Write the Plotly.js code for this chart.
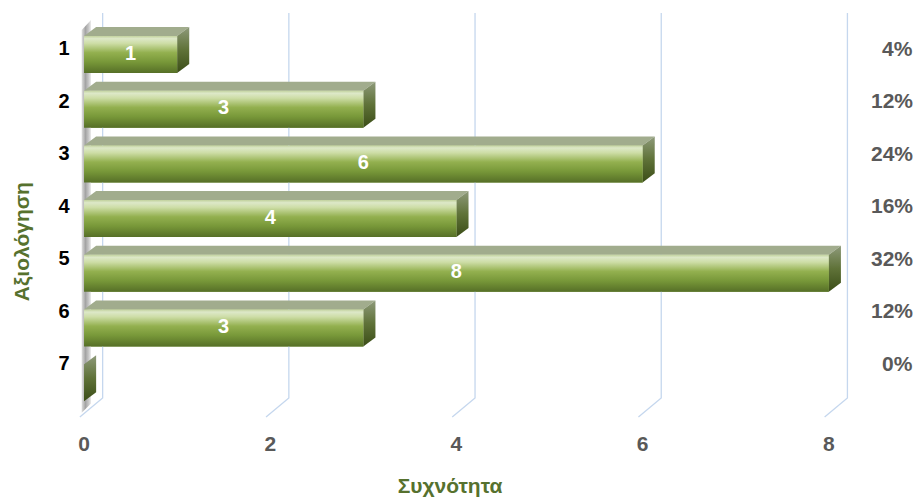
<!DOCTYPE html>
<html>
<head>
<meta charset="utf-8">
<script src="https://cdn.plot.ly/plotly-3.0.1.min.js"></script>
<style>html,body{margin:0;padding:0;background:#fff}#chart{width:919px;height:502px}</style>
</head>
<body>
<div id="chart"></div>
<script>
// ---- data ----
const categories = ['1', '2', '3', '4', '5', '6', '7'];
const frequencies = [1, 3, 6, 4, 8, 3, 0];
const percentLabels = ['4%', '12%', '24%', '16%', '32%', '12%', '0%'];
const xTickValues = [0, 2, 4, 6, 8];
const xTitle = 'Συχνότητα';
const yTitle = 'Αξιολόγηση';

// ---- geometry / style ----
const catPos = categories.map((c, i) => i + 1);
const H = 0.338;      // half bar thickness (y units)
const DX = 0.13;      // 3D depth in x units
const DY = 0.165;     // 3D depth in y units
const GRID_BACK = 0.2, GRID_FRONT = -0.045;
const GRID_TOP = 0.24, FLOOR_BACK = 7.28, FLOOR_FRONT = 7.627;
const FONT = 'Liberation Sans, Arial, sans-serif';
const OLIVE = '#56712e';

// gradients are listed top -> bottom, then flipped for the renderer
const flip = cs => cs.map(([p, c]) => [1 - p, c]).reverse();
const FRONT_CS = flip([[0, '#c2d29e'], [0.07, '#dde8c8'], [0.2, '#cddda6'], [0.45, '#93b04f'], [0.7, '#789839'], [1, '#566f27']]);
const SIDE_CS = flip([[0, '#8e9a7a'], [0.5, '#5f7238'], [1, '#3b4d17']]);

const traces = [];

// base bars (library bars)
traces.push({
  type: 'bar', orientation: 'h', x: frequencies, y: catPos, width: 2 * H,
  marker: {color: '#77933c', line: {width: 0}}, hoverinfo: 'skip'
});

// back-plane gridlines with floor diagonals
const gx = [], gy = [];
xTickValues.forEach(t => {
  gx.push(t + GRID_BACK, t + GRID_BACK, t + GRID_FRONT, null);
  gy.push(GRID_TOP, FLOOR_BACK, FLOOR_FRONT, null);
});
traces.push({type: 'scatter', mode: 'lines', x: gx, y: gy,
  line: {color: '#c5d7ee', width: 1.3}, hoverinfo: 'skip', cliponaxis: false});

// left wall
traces.push({type: 'scatter', mode: 'lines', fill: 'toself',
  x: [-0.025, -0.025, 0.075, 0.075, -0.025],
  y: [7.55, 0.55, 0.37, 7.38, 7.55],
  line: {width: 0},
  fillgradient: {type: 'horizontal', colorscale: [[0, '#dedede'], [0.4, '#a3a3a3'], [0.75, '#c8c8c8'], [1, '#ececec']]},
  hoverinfo: 'skip'});

// 3D faces for each bar
frequencies.forEach((v, i) => {
  const c = catPos[i];
  const top = c - H, bot = c + H;
  // top face
  traces.push({type: 'scatter', mode: 'lines', fill: 'toself',
    x: [0, v, v + DX, DX, 0], y: [top, top, top - DY, top - DY, top],
    line: {width: 0}, fillcolor: '#a1ac8d', hoverinfo: 'skip'});
  // end (side) face
  traces.push({type: 'scatter', mode: 'lines', fill: 'toself',
    x: [v, v + DX, v + DX, v, v], y: [top, top - DY, bot - DY, bot, top],
    line: {width: 0},
    fillgradient: {type: 'vertical', colorscale: SIDE_CS},
    hoverinfo: 'skip'});
  // front face
  if (v > 0) {
    traces.push({type: 'scatter', mode: 'lines', fill: 'toself',
      x: [0, v, v, 0, 0], y: [top, top, bot, bot, top],
      line: {width: 0},
      fillgradient: {type: 'vertical', colorscale: FRONT_CS},
      hoverinfo: 'skip'});
  }
});

// value labels
traces.push({type: 'scatter', mode: 'text',
  x: frequencies.map(v => v / 2), y: catPos,
  text: frequencies.map(v => v > 0 ? String(v) : ''),
  textfont: {family: FONT, size: 20, color: '#ffffff', weight: 'bold'},
  hoverinfo: 'skip', cliponaxis: false});

// carrier for category axis
traces.push({type: 'scatter', mode: 'markers', x: frequencies, y: catPos, yaxis: 'y2',
  marker: {opacity: 0}, hoverinfo: 'skip'});

const annotations = percentLabels.map((p, i) => ({
  xref: 'paper', yref: 'y2', x: 1.067, y: catPos[i], xanchor: 'right', yanchor: 'middle',
  text: p, showarrow: false, font: {family: FONT, size: 21, color: '#595959', weight: 'bold'}
}));
annotations.push({
  xref: 'paper', yref: 'paper', x: -0.0225, y: 0.435, textangle: -90,
  text: yTitle, showarrow: false, xanchor: 'center', yanchor: 'middle',
  font: {family: FONT, size: 21, color: OLIVE, weight: 'bold'}
});

const layout = {
  width: 919, height: 502,
  margin: {l: 40, r: 59, t: 10, b: 82},
  paper_bgcolor: '#ffffff', plot_bgcolor: '#ffffff',
  showlegend: false,
  xaxis: {
    range: [-0.473, 8.335], tickvals: xTickValues, ticktext: xTickValues.map(String),
    showgrid: false, zeroline: false, showline: false, ticks: '',
    ticklabelstandoff: 9,
    tickfont: {family: FONT, size: 21, color: '#595959', weight: 'bold'},
    title: {text: xTitle, standoff: 24, font: {family: FONT, size: 21, color: OLIVE, weight: 'bold'}}
  },
  yaxis: {
    range: [7.682, 0.1865], showticklabels: false, showgrid: false, zeroline: false, showline: false, ticks: ''
  },
  yaxis2: {
    overlaying: 'y', anchor: 'free', position: 0.036, side: 'left',
    range: [8.0857, 0.2762], tickvals: catPos, ticktext: categories,
    showgrid: false, zeroline: false, showline: false, ticks: '',
    tickfont: {family: FONT, size: 20, color: '#000000', weight: 'bold'}
  },
  annotations: annotations
};

Plotly.newPlot('chart', traces, layout, {displayModeBar: false, staticPlot: true});
</script>
</body>
</html>
